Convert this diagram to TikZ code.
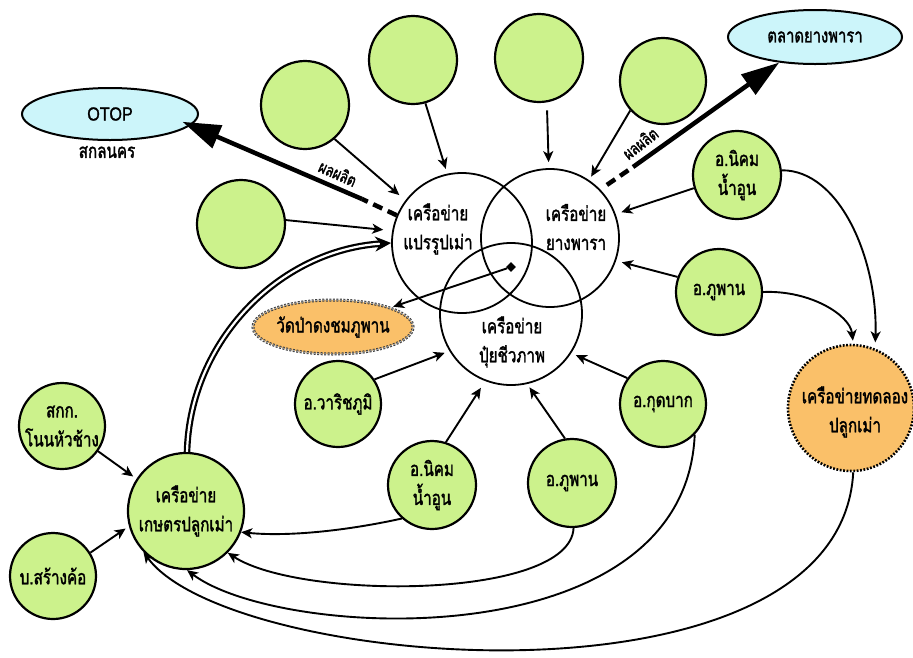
\documentclass[tikz,border=0pt]{standalone}
\usepackage{fontspec}
\usetikzlibrary{shapes.geometric,arrows.meta}
\newfontfamily\thfont[Script=Thai, FakeStretch=0.76, FakeBold=1.6]{Loma}
\newfontfamily\latfont[FakeStretch=0.85, FakeBold=1.2]{Liberation Sans}
\definecolor{gfill}{RGB}{204,242,140}
\definecolor{bfill}{RGB}{204,245,250}
\definecolor{ofill}{RGB}{250,192,105}
\begin{document}
\begin{tikzpicture}[x=1pt,y=-1pt,
  every node/.style={font=\thfont\fontsize{20}{29}\selectfont, inner sep=0pt, align=center},
  gcirc/.style={circle, draw, line width=2.2pt, fill=gfill},
  venn/.style={circle, draw, line width=1.8pt, minimum size=140pt},
  oval/.style={ellipse, draw, line width=2pt, fill=bfill},
  arr/.style={-{Stealth[length=11pt,width=10pt,inset=3pt]}, line width=1.9pt},
  bigarr/.style={-{Triangle[length=38pt,width=24pt]}, line width=4.5pt},
  dashseg/.style={line width=4.5pt, dash pattern=on 10pt off 6pt},
  lbl/.style={font=\thfont\fontsize{17}{18}\selectfont}
]
\useasboundingbox (0,0) rectangle (913,657);

% outer ovals
\node[oval, minimum width=176pt, minimum height=52pt] (otop) at (110,114) {\latfont\fontsize{19}{21}\selectfont OTOP};
\node (otoplbl) at (107,152) {สกลนคร};
\node[oval, minimum width=174pt, minimum height=54pt] (market) at (815,37) {\fontsize{19.5}{21}\selectfont ตลาดยางพารา};

% empty green circles
\node[gcirc, minimum size=88pt] (e1) at (305,105) {};
\node[gcirc, minimum size=88pt] (e2) at (413,60) {};
\node[gcirc, minimum size=88pt] (e3) at (241,224) {};
\node[gcirc, minimum size=88pt] (e4) at (539,58) {};
\node[gcirc, minimum size=86pt] (e5) at (663,81) {};

% Venn circles
\node[venn] (P) at (462,243) {};
\node[venn, minimum size=138pt] (Y) at (550,238) {};
\node[venn, minimum size=142pt] (B) at (511,314) {};
\node (ptxt) at (438,229) {เครือข่าย\\แปรรูปเม่า};
\node (ytxt) at (576,227) {เครือข่าย\\ยางพารา};
\node (btxt) at (512,342) {เครือข่าย\\ปุ๋ยชีวภาพ};
\node[diamond, fill=black, minimum size=10pt] (dot) at (511,267) {};

% temple
\node[ellipse, draw=black!75, fill=ofill, minimum width=150pt, minimum height=54pt,
      line width=1pt, double=black!35, double distance=1pt, dash pattern=on 2pt off 1.5pt] (wat) at (333,327) {วัดป่าดงชมภูพาน};

% right side
\node[gcirc, minimum size=88pt] (nr) at (737,175) {อ.นิคม\\น้ำอูน};
\node[gcirc, minimum size=86pt] (pr) at (719,292) {อ.ภูพาน};
\node[circle, fill=ofill, draw, line width=2.6pt, dash pattern=on 1.8pt off 1.6pt, minimum size=126pt] (exp) at (851,408) {};
\node (exptxt) at (855,412) {เครือข่ายทดลอง\\ปลูกเม่า};

% lower nodes
\node[gcirc, minimum size=86pt] (kb) at (663,404) {อ.กุดบาก};
\node[gcirc, minimum size=88pt] (pb) at (572,483) {อ.ภูพาน};
\node[gcirc, minimum size=88pt] (nb) at (432,485) {อ.นิคม\\น้ำอูน};
\node[gcirc, minimum size=86pt] (wr) at (338,404) {อ.วาริชภูมิ};
\node[gcirc, minimum size=86pt] (sk) at (62,426) {สกก.\\โนนหัวช้าง};
\node[gcirc, minimum size=86pt] (bs) at (53,576) {บ.สร้างค้อ};
\node[gcirc, minimum size=116pt] (kn) at (186,511) {เครือข่าย\\เกษตรปลูกเม่า};

% arrows into Venn
\draw[arr, shorten >=8pt] (e1.-49) -- (P.143);
\draw[arr, shorten >=5pt] (e2.-74) -- (P.102);
\draw[arr, shorten >=9pt] (e3.5) -- (P.170);
\draw[arr, shorten >=6pt, shorten <=8pt] (e4.-80) -- (Y.91);
\draw[arr, shorten >=4pt] (e5.222) -- (Y.56);
\draw[arr, shorten >=6pt] (nr.197) -- (Y.20);
\draw[arr, shorten >=6pt] (pr.160) -- (Y.-19);
\draw[arr, shorten >=5pt] (wr.34) -- (B.211);
\draw[arr, shorten >=8pt] (nb.72) -- (B.249);
\draw[arr, shorten >=4pt] (pb.99) -- (B.283);
\draw[arr, shorten >=5pt] (kb.144) -- (B.-33);
\draw[arr, shorten >=3pt] (dot) -- (wat);

% arrows into kaset network
\draw[arr, shorten >=4pt] (sk.-35) -- (kn.147);
\draw[arr, shorten >=4pt] (bs.32) -- (kn.195);
\draw[arr] (nb.228) .. controls (350,530) and (290,537) .. (kn.-21);
\draw[arr] (pb.-88) .. controls (570,600) and (300,600) .. (kn.-45);
\draw[arr] (kb.-44) .. controls (685,660) and (280,640) .. (kn.-89);
\draw[arr] (exp.-88) .. controls (840,720) and (230,670) .. (kn.224);

% to experiment network
\draw[arr, shorten >=6pt] (nr.6) .. controls (840,170) and (878,260) .. (exp.68);
\draw[arr, shorten >=3pt] (pr.0) .. controls (810,290) and (850,315) .. (exp.88);

% double thick curve
\draw[line width=2.2pt, double distance=2.2pt, -{Stealth[length=16pt,width=15pt]}] (kn.89) .. controls (190,340) and (280,250) .. (P.180);

% product arrows
\coordinate (m1) at (362,199);
\draw[dashseg] (P.157) -- (m1);
\draw[bigarr, shorten >=-9pt] (m1) -- (otop.-8);
\node[lbl, rotate=-24] (lbl1) at (338,173) {ผลผลิต};
\coordinate (m2) at (633,167);
\draw[dashseg, shorten <=8pt] (Y.44) -- (m2);
\draw[bigarr] (m2) -- (market);
\node[lbl, rotate=38] (lbl2) at (640,143) {ผลผลิต};
\end{tikzpicture}
\end{document}
